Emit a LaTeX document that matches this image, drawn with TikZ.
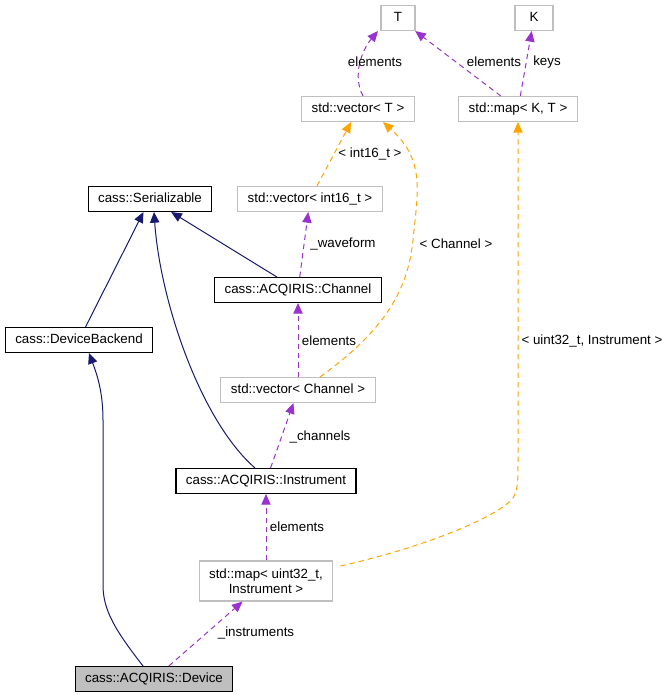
\documentclass[tikz,border=0pt]{standalone}
\usepackage{fontspec}
\setmainfont{Liberation Sans}
\usetikzlibrary{arrows.meta,calc}
\definecolor{edgeblue}{HTML}{191970}
\definecolor{edgepurple}{HTML}{9A32CD}
\definecolor{edgeorange}{HTML}{FFA500}
\definecolor{boxgray}{HTML}{BFBFBF}
\begin{document}
\begin{tikzpicture}[
    x=0.75pt, y=-0.75pt,
    every node/.style={font=\fontsize{10pt}{11.5pt}\selectfont},
    cls/.style={rectangle, draw=black, line width=0.8pt, inner xsep=7.5pt, inner ysep=0pt, minimum height=18.75pt, text height=7.2pt, text depth=1.8pt, align=center},
    ext/.style={cls, draw=boxgray},
    twoline/.style={text height={}, text depth={}, minimum height=30pt},
    lbl/.style={inner sep=1pt},
    inherit/.style={draw=edgeblue, line width=0.75pt, -{Triangle[length=8pt,width=7pt]}},
    member/.style={draw=edgepurple, line width=0.75pt, dash pattern=on 4pt off 3pt, -{Triangle[length=8pt,width=7pt]}},
    templ/.style={draw=edgeorange, line width=0.75pt, dash pattern=on 4pt off 3pt, -{Triangle[length=8pt,width=7pt]}}
]
    \useasboundingbox (0,0) rectangle (669,699);

    \node [ext, minimum width=25.5pt] (tT) at (398,18) {T};
    \node [ext, minimum width=28.5pt] (tK) at (534,18) {K};
    \node [ext] (vecT) at (358,109) {std::vector\textless{} T \textgreater};
    \node [ext] (mapKT) at (518,109) {std::map\textless{} K, T \textgreater};
    \node [cls] (serial) at (150,199) {cass::Serializable};
    \node [ext] (vecInt) at (310,199) {std::vector\textless{} int16\_t \textgreater};
    \node [cls] (channel) at (298,290) {cass::ACQIRIS::Channel};
    \node [cls] (backend) at (79,340) {cass::DeviceBackend};
    \node [ext] (vecChan) at (298,390) {std::vector\textless{} Channel \textgreater};
    \node [cls] (instr) at (266,481) {cass::ACQIRIS::Instrument};
    \node [ext, twoline] (mapInstr) at (266,581) {std::map\textless{} uint32\_t,\\ Instrument \textgreater};
    \node [cls, fill=boxgray] (device) at (154,679) {cass::ACQIRIS::Device};

    % inheritance
    \draw [inherit] (backend) -- (serial);
    \draw [inherit] (channel) -- (serial);
    \draw [inherit] ($(instr.north)+(-11,0)$) .. controls (200,420) and (160,300) .. ($(serial.south)+(4,0)$);
    \draw [inherit] ($(device.north)+(-11,0)$) .. controls (115,630) and (103,610) .. (103,585)
        -- (103,420) .. controls (103,390) and (96,372) .. ($(backend.south)+(10,0)$);

    % members
    \draw [member] ($(vecT.north)+(5,0)$) .. controls (352,75) and (362,50) .. ($(tT.south)+(-20,0)$);
    \draw [member] (mapKT) -- (tT);
    \draw [member] (mapKT) -- (tK);
    \draw [member] (channel) -- (vecInt);
    \draw [member] (vecChan) -- (channel);
    \draw [member] (instr) -- (vecChan);
    \draw [member] (mapInstr) -- (instr);
    \draw [member] (device) -- (mapInstr);

    % template instances
    \draw [templ] (vecInt) -- (vecT);
    \draw [templ] ($(vecChan.north)+(22,0)$) .. controls (385,330) and (408,290) .. (413,240)
        .. controls (418,190) and (425,160) .. ($(vecT.south)+(25,0)$);
    \draw [templ] ($(mapInstr.east)+(7,-15)$) .. controls (430,546) and (500,515) .. (513,498)
        .. controls (518,490) and (518,480) .. (518,460) -- (mapKT.south);

    \node [lbl] (lElemT) at (375,62) {elements};
    \node [lbl] (lElemMap) at (494,62) {elements};
    \node [lbl] (lKeys) at (547,62) {keys};
    \node [lbl] (lInt) at (370,154) {\textless{} int16\_t \textgreater};
    \node [lbl] (lWave) at (343,244) {\_waveform};
    \node [lbl] (lChanT) at (456,244) {\textless{} Channel \textgreater};
    \node [lbl] (lElemChan) at (329,341) {elements};
    \node [lbl] (lUint) at (592,341) {\textless{} uint32\_t, Instrument \textgreater};
    \node [lbl] (lChans) at (320,437) {\_channels};
    \node [lbl] (lElemInstr) at (297,527) {elements};
    \node [lbl] (lInstrs) at (256,633) {\_instruments};
\end{tikzpicture}
\end{document}
